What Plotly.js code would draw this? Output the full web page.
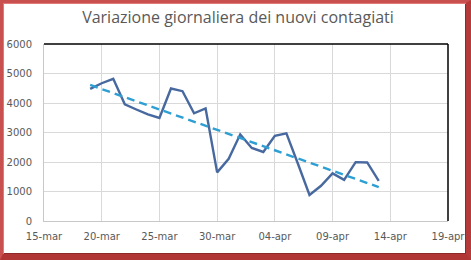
<!DOCTYPE html>
<html>
<head>
<meta charset="utf-8">
<script src="https://cdn.plot.ly/plotly-3.0.1.min.js"></script>
<style>
html,body{margin:0;padding:0;background:#fff;}
#wrap{position:relative;width:471px;height:260px;overflow:hidden;}
#chart{position:absolute;left:0;top:0;width:471px;height:260px;}
#frame{position:absolute;left:0;top:0;width:471px;height:260px;box-sizing:border-box;
  border-style:solid;border-width:3px 5px 6px 3px;border-color:#c8504e #b73a3a #b03636 #c8504e;
  box-shadow:inset 1px 1px 0 #e07a78, inset -1px -1px 0 #8e2a2a, 0 0 0 1px #a33030 inset;pointer-events:none;}
</style>
</head>
<body>
<div id="wrap">
<div id="chart"></div>
<div id="frame"></div>
</div>
<script>
const dates = ['2020-03-19','2020-03-20','2020-03-21','2020-03-22','2020-03-23','2020-03-24','2020-03-25','2020-03-26','2020-03-27','2020-03-28','2020-03-29','2020-03-30','2020-03-31','2020-04-01','2020-04-02','2020-04-03','2020-04-04','2020-04-05','2020-04-06','2020-04-07','2020-04-08','2020-04-09','2020-04-10','2020-04-11','2020-04-12','2020-04-13'];
const values = [4480,4670,4821,3957,3780,3612,3491,4492,4401,3651,3815,1648,2107,2937,2477,2339,2886,2972,1941,880,1195,1615,1396,1996,1984,1363];
const tickDates = ['2020-03-15','2020-03-20','2020-03-25','2020-03-30','2020-04-04','2020-04-09','2020-04-14','2020-04-19'];
const tickLabels = ['15-mar','20-mar','25-mar','30-mar','04-apr','09-apr','14-apr','19-apr'];
const yTicks = [0,1000,2000,3000,4000,5000,6000];

// linear trendline (least squares) of the series, as in the spreadsheet
const n = values.length;
const xs = values.map((v,i)=>i);
const mx = xs.reduce((a,b)=>a+b,0)/n;
const my = values.reduce((a,b)=>a+b,0)/n;
let sxy=0,sxx=0;
for(let i=0;i<n;i++){sxy+=(xs[i]-mx)*(values[i]-my);sxx+=(xs[i]-mx)*(xs[i]-mx);}
const slope=sxy/sxx, icpt=my-slope*mx;
const trendX=[dates[0],dates[n-1]];
const trendY=[icpt, icpt+slope*(n-1)];

const font = {family:'DejaVu Sans, Verdana, sans-serif', size:10, color:'#595959'};
const traces = [
  {x:dates, y:values, type:'scatter', mode:'lines', line:{color:'#48699f', width:2.4}, hoverinfo:'none'},
  {x:trendX, y:trendY, type:'scatter', mode:'lines', line:{color:'#2e9fd3', width:2.4, dash:'8px,5px'}, hoverinfo:'none'}
];
const layout = {
  width:471, height:260,
  margin:{l:44, r:23, t:44, b:39, pad:0},
  paper_bgcolor:'#fff', plot_bgcolor:'#fff',
  showlegend:false,
  title:{text:'Variazione giornaliera dei nuovi contagiati', font:{family:'Open Sans, sans-serif', size:16, color:'#595959'},
         x:238/471, xanchor:'center', y:1-17/260, yanchor:'middle', yref:'container', xref:'container'},
  xaxis:{type:'date', range:['2020-03-15','2020-04-19'], tickmode:'array', tickvals:tickDates, ticktext:tickLabels,
         showgrid:true, gridcolor:'#d9d9d9', gridwidth:1, zeroline:false, showline:true, linecolor:'#c8c8c8', linewidth:1,
         ticks:'outside', ticklen:6, tickcolor:'rgba(0,0,0,0)', tickfont:font, fixedrange:true},
  yaxis:{range:[0,6000], tickmode:'array', tickvals:yTicks, ticktext:yTicks.map(String),
         showgrid:true, gridcolor:'#d9d9d9', gridwidth:1, zeroline:false, showline:true, linecolor:'#c8c8c8', linewidth:1,
         ticks:'outside', ticklen:9, tickcolor:'rgba(0,0,0,0)', tickfont:font, fixedrange:true},
  shapes:[
    {type:'line', xref:'paper', yref:'paper', x0:0, x1:1, y0:1, y1:1, line:{color:'#000', width:1.5}},
    {type:'line', xref:'paper', yref:'paper', x0:1, x1:1, y0:0, y1:1, line:{color:'#000', width:1.5}}
  ]
};
Plotly.newPlot('chart', traces, layout, {staticPlot:true, displayModeBar:false});
</script>
</body>
</html>
